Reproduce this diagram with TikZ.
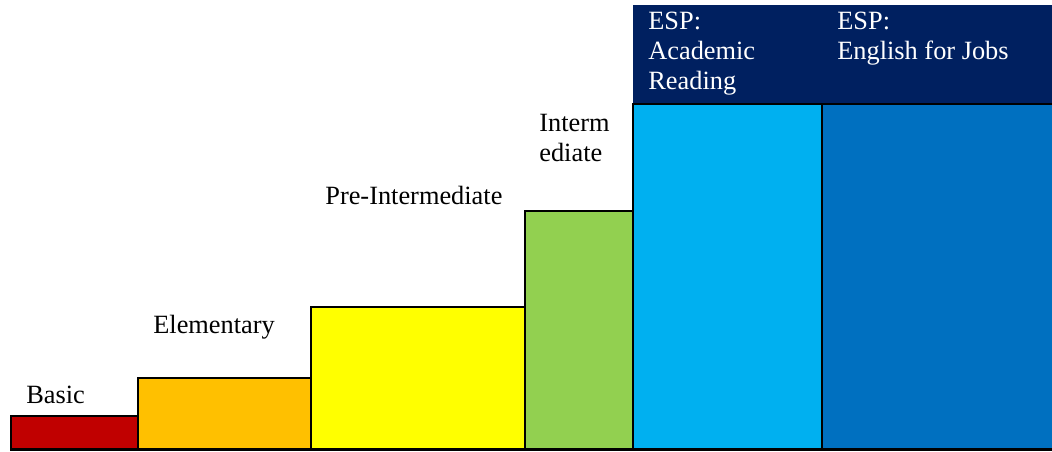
\documentclass[tikz,border=0pt]{standalone}
\usepackage{fontspec}
\setmainfont{Liberation Serif}
\usepackage{tikz}

\definecolor{lvred}{HTML}{C00000}
\definecolor{lvorange}{HTML}{FFC000}
\definecolor{lvyellow}{HTML}{FFFF00}
\definecolor{lvgreen}{HTML}{92D050}
\definecolor{lvsky}{HTML}{00B0F0}
\definecolor{lvblue}{HTML}{0070C0}
\definecolor{lvnavy}{HTML}{002060}

\tikzset{
  stair/.style={draw=black,line width=1.2pt},
  lbl/.style={anchor=base west,inner sep=0pt,align=left,
    font=\fontsize{15}{17}\selectfont}
}

\begin{document}
\begin{tikzpicture}
\begin{scope}[x=0.02cm,y=-0.02cm]
\useasboundingbox (0,0) rectangle (1052,451);
\clip (0,0) rectangle (1052,451);

\path[fill=lvnavy]% header over the ESP columns
(633,5) rectangle (1060,104);

\path[stair,fill=lvred]% basic
(11,449.5) rectangle (138,416);
\path[stair,fill=lvorange]% elementary
(138,449.5) rectangle (311,378);
\path[stair,fill=lvyellow]% pre-intermediate
(311,449.5) rectangle (525,307);
\path[stair,fill=lvgreen]% intermediate
(525,449.5) rectangle (633,211);
\path[stair,fill=lvsky]% academic reading
(633,449.5) rectangle (822,104);
\path[stair,fill=lvblue]% english for jobs
(822,449.5) rectangle (1060,104);

% multi-line labels sit on the baseline of their last line
\node[lbl] (basic) at (26,403) {Basic};
\node[lbl] (elem)  at (153,333) {Elementary};
\node[lbl] (pre)   at (325,204) {Pre-Intermediate};
\node[lbl] (inter) at (539,161) {Interm\\ediate};
\node[lbl,text=white] (acad) at (648,89) {ESP:\\Academic\\Reading};
\node[lbl,text=white] (jobs) at (837,59) {ESP:\\English for Jobs};

\end{scope}
\end{tikzpicture}
\end{document}
